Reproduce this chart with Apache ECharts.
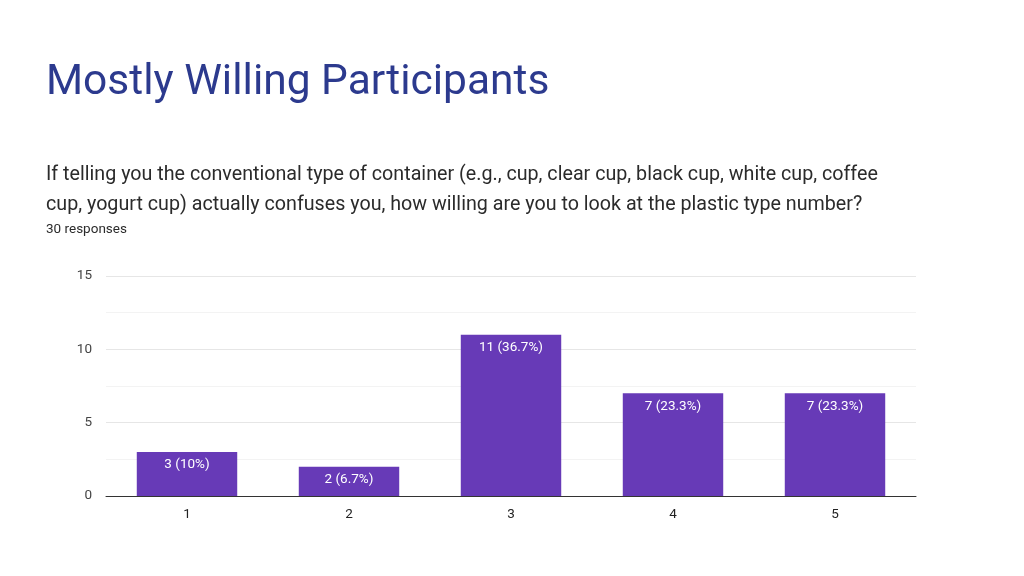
<!DOCTYPE html>
<html>
<head>
<meta charset="utf-8">
<script src="https://cdn.jsdelivr.net/npm/echarts@6/dist/echarts.min.js"></script>
<style>
  html, body { margin: 0; padding: 0; background: #fff; }
  #chart { width: 1024px; height: 576px; }
</style>
</head>
<body>
<div id="chart"></div>
<script>
var categories = ['1', '2', '3', '4', '5'];
var counts = [3, 2, 11, 7, 7];
var percents = ['10%', '6.7%', '36.7%', '23.3%', '23.3%'];

var myChart = echarts.init(document.getElementById('chart'));

var option = {
    backgroundColor: '#ffffff',
    textStyle: { fontFamily: 'Roboto' },
    title: [{
        text: 'Mostly Willing Participants',
        left: 46, top: 62, padding: 0,
        textStyle: { fontSize: 42.5, fontWeight: 'normal', color: '#2c3a8e', fontFamily: 'Roboto' }
    }, {
        text: 'If telling you the conventional type of container (e.g., cup, clear cup, black cup, white cup, coffee\ncup, yogurt cup) actually confuses you, how willing are you to look at the plastic type number?',
        left: 46, top: 160, padding: 0,
        textStyle: { fontSize: 19.7, fontWeight: 'normal', color: '#2b2b2b', lineHeight: 30, fontFamily: 'Roboto' }
    }, {
        text: '30 responses',
        left: 46, top: 223, padding: 0,
        textStyle: { fontSize: 13.5, fontWeight: 'normal', color: '#2b2b2b', fontFamily: 'Roboto' }
    }],
    grid: { left: 106, right: 108, top: 276, bottom: 80 },
    xAxis: {
        type: 'category',
        data: categories,
        axisLine: { lineStyle: { color: '#333', width: 1 } },
        axisTick: { show: false },
        axisLabel: { color: '#222', fontSize: 13.5, margin: 12 }
    },
    yAxis: {
        type: 'value',
        min: 0, max: 15, interval: 5,
        axisLabel: { color: '#444', fontSize: 13.5, margin: 14 },
        splitLine: { lineStyle: { color: '#e6e6e6' } },
        minorTick: { show: false, splitNumber: 2 },
        minorSplitLine: { show: true, lineStyle: { color: '#f3f3f3' } }
    },
    series: [{
        type: 'bar',
        data: counts,
        barWidth: '62%',
        itemStyle: { color: '#673ab7' },
        label: {
            show: true,
            position: 'insideTop',
            color: '#fff',
            fontSize: 13.5,
            distance: 6,
            formatter: function (p) { return p.value + ' (' + percents[p.dataIndex] + ')'; }
        }
    }]
};

myChart.setOption(option);
</script>
</body>
</html>
